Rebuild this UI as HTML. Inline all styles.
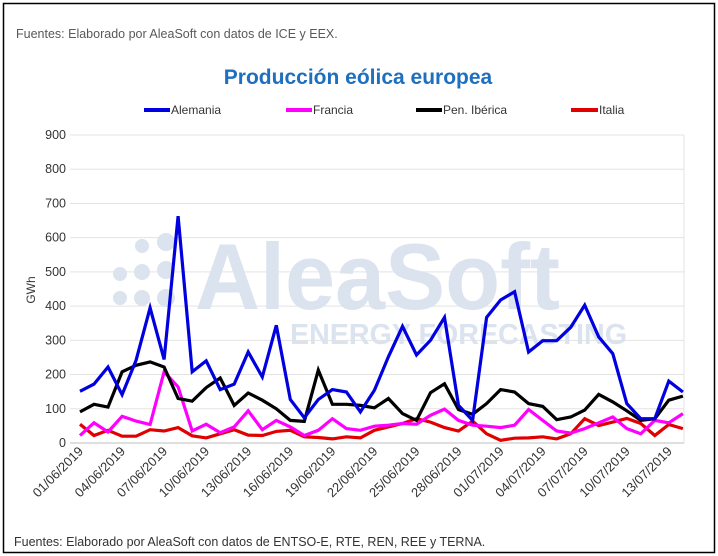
<!DOCTYPE html>
<html><head><meta charset="utf-8"><style>
body{margin:0;background:#fff;}
svg{display:block;font-family:"Liberation Sans",sans-serif;}
</style></head><body>
<svg id="c" width="718" height="556" xmlns="http://www.w3.org/2000/svg">
<rect x="3.5" y="3.5" width="711" height="549" fill="#fff" stroke="#000" stroke-width="1.5"/>
<text x="16" y="38" font-size="12.5" fill="#595959">Fuentes: Elaborado por AleaSoft con datos de ICE y EEX.</text>
<text x="358" y="84" font-size="21" font-weight="bold" fill="#1f6fc0" text-anchor="middle">Producción eólica europea</text>
<g font-size="12" fill="#333">
<line x1="144" y1="110" x2="170" y2="110" stroke="#0000e0" stroke-width="4"/><text x="171" y="114">Alemania</text>
<line x1="286" y1="110" x2="312" y2="110" stroke="#ff00ff" stroke-width="4"/><text x="313" y="114">Francia</text>
<line x1="416" y1="110" x2="442" y2="110" stroke="#000" stroke-width="4"/><text x="443" y="114">Pen. Ibérica</text>
<line x1="571" y1="110" x2="598" y2="110" stroke="#e00000" stroke-width="4"/><text x="599" y="114">Italia</text>
</g>
<g id="grid"></g>
<g fill="#dbe3ef" font-weight="bold">
<circle cx="120" cy="298" r="7"/><circle cx="120" cy="274" r="7"/><circle cx="142" cy="298" r="8"/><circle cx="142" cy="272" r="8"/><circle cx="142" cy="246" r="7"/><circle cx="166" cy="298" r="9"/><circle cx="166" cy="270" r="9"/><circle cx="166" cy="242" r="9"/>
<text x="195" y="309" font-size="94" fill="#dbe3ef" textLength="365" lengthAdjust="spacingAndGlyphs">AleaSoft</text>
<text x="290" y="344" font-size="29" fill="#dbe3ef" textLength="337" lengthAdjust="spacingAndGlyphs">ENERGY FORECASTING</text>
</g>
<g id="series"></g>
<text transform="translate(35,290) rotate(-90)" font-size="12" fill="#333" text-anchor="middle">GWh</text>
<g id="xl" font-size="13" fill="#333"></g>
<text x="14" y="546" font-size="12.5" fill="#333">Fuentes: Elaborado por AleaSoft con datos de ENTSO-E, RTE, REN, REE y TERNA.</text>
</svg>
<script>
var ns="http://www.w3.org/2000/svg";
function el(p,t,a,txt){var e=document.createElementNS(ns,t);for(var k in a)e.setAttribute(k,a[k]);if(txt!=null)e.textContent=txt;document.getElementById(p).appendChild(e);return e;}
var y0=443,sc=308/900,x0=80,dx=14.02;
for(var v=0;v<=900;v+=100){var y=y0-v*sc;el("grid","line",{x1:70,x2:684,y1:y,y2:y,stroke:v==0?"#bfbfbf":"#e3e3e3","stroke-width":1});el("grid","text",{x:66,y:y+4,"font-size":12.5,fill:"#333","text-anchor":"end"},v);}
el("grid","line",{x1:684,x2:684,y1:135,y2:443,stroke:"#e3e3e3"});
var B=[151,172,222,141,242,395,244,663,208,240,156,172,266,193,344,127,74,127,156,149,91,154,252,341,257,300,367,110,66,367,418,442,266,299,299,338,403,310,261,115,71,71,181,149];
var K=[91,113,105,208,227,237,222,130,122,162,190,110,146,125,100,66,63,213,113,113,110,103,130,86,66,147,173,98,84,115,156,149,115,107,68,76,96,142,120,94,66,71,125,137];
var M=[22,59,32,78,64,54,208,164,35,55,30,47,94,39,66,47,22,37,71,42,37,49,52,57,55,81,99,66,52,49,45,52,98,66,35,29,42,59,76,42,27,66,59,86];
var R=[55,22,37,20,20,39,35,45,21,15,27,39,23,22,34,37,18,16,12,18,15,37,47,57,71,61,45,35,64,27,8,14,15,18,12,27,71,51,61,72,57,22,54,42];
function line(d,c){var p=d.map(function(v,i){return (x0+i*dx).toFixed(1)+","+(y0-v*sc).toFixed(1)}).join(" ");el("series","polyline",{points:p,fill:"none",stroke:c,"stroke-width":3.2,"stroke-linejoin":"miter"});}
line(R,"#e00000");line(M,"#ff00ff");line(K,"#000");line(B,"#0000e0");
var lab=["01/06/2019","04/06/2019","07/06/2019","10/06/2019","13/06/2019","16/06/2019","19/06/2019","22/06/2019","25/06/2019","28/06/2019","01/07/2019","04/07/2019","07/07/2019","10/07/2019","13/07/2019"];
for(var i=0;i<lab.length;i++){var x=x0+i*3*dx+4;el("xl","text",{transform:"translate("+x+",452) rotate(-45)","text-anchor":"end"},lab[i]);}
</script>
</body></html>
